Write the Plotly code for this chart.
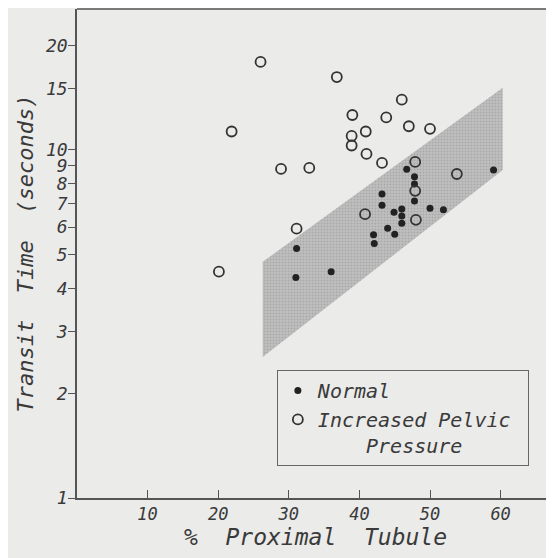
import plotly.graph_objects as go

# ---- data ----
normal_x = [46.7, 47.8, 47.8, 47.8, 59.0, 43.2, 43.2, 44.9, 46.0, 46.0,
            46.0, 50.0, 51.9, 44.0, 45.0, 42.0, 42.1, 31.1, 36.0, 31.0]
normal_y = [8.80, 8.38, 7.99, 7.14, 8.76, 7.47, 6.94, 6.62, 6.77, 6.46,
            6.16, 6.80, 6.73, 5.96, 5.73, 5.71, 5.39, 5.21, 4.47, 4.30]

pelvic_x = [26.0, 21.9, 20.1, 28.9, 36.8, 46.0, 39.0, 43.8, 47.0, 50.0,
            40.9, 38.9, 38.9, 41.0, 43.2, 47.9, 32.9, 53.8, 47.9, 40.8,
            48.0, 31.1]
pelvic_y = [17.9, 11.3, 4.47, 8.82, 16.2, 13.95, 12.6, 12.4, 11.7, 11.5,
            11.3, 10.97, 10.3, 9.74, 9.18, 9.24, 8.88, 8.53, 7.63, 6.54,
            6.30, 5.94]

band_x = [26.3, 60.3]
band_lower = [2.54, 8.76]
band_upper = [4.77, 15.1]

x_ticks = [10, 20, 30, 40, 50, 60]
y_ticks = [1, 2, 3, 4, 5, 6, 7, 8, 9, 10, 15, 20]

INK = "#3a3a3a"
BG = "#ebebea"
FONT = "DejaVu Sans Mono"
NB = "\u00a0"

fig = go.Figure()

# shaded band
fig.add_trace(go.Scatter(
    x=band_x + band_x[::-1] + [band_x[0]],
    y=band_upper + band_lower[::-1] + [band_upper[0]],
    mode="lines", fill="toself",
    fillcolor="#b8b8b8",
    fillpattern=dict(shape=".", bgcolor="#c0c0c0", fgcolor="#909090",
                     size=3, solidity=0.35, fillmode="overlay"),
    line=dict(width=0, color="rgba(0,0,0,0)"),
    hoverinfo="skip", showlegend=False))

fig.add_trace(go.Scatter(
    x=normal_x, y=normal_y, mode="markers", name="Normal",
    marker=dict(symbol="circle", size=7, color="#222222")))

fig.add_trace(go.Scatter(
    x=pelvic_x, y=pelvic_y, mode="markers",
    name="Increased" + NB + "Pelvic" + NB + "<br>" + NB * 4 + "Pressure",
    marker=dict(symbol="circle-open", size=10,
                line=dict(width=1.8, color="#333333"), color="#333333")))

# The page body has an 8 px margin, so the figure is 8 px smaller each way
fig.update_layout(
    width=546, height=550,
    margin=dict(l=69, r=0, t=1, b=60),
    paper_bgcolor=BG, plot_bgcolor=BG,
    font=dict(family=FONT, color=INK, size=17, style="italic"),
    showlegend=True,
    legend=dict(x=0.419, y=0.262, xanchor="left", yanchor="top",
                bordercolor="#666666", borderwidth=1, bgcolor=BG,
                font=dict(family=FONT, size=20, color=INK, style="italic"),
                itemsizing="trace", itemwidth=30, tracegroupgap=0,
                valign="top"),
)

fig.update_xaxes(
    range=[0, 67.56], tickvals=x_ticks, ticktext=[str(v) for v in x_ticks],
    ticks="inside", ticklen=8, tickwidth=1.2, tickcolor="#555555",
    showline=True, linecolor="#555555", linewidth=1.5, mirror=False,
    showgrid=False, zeroline=False, automargin=False,
    tickfont=dict(family=FONT, size=17, color=INK, style="italic"),
    title=dict(text="%" + NB * 2 + "Proximal" + NB * 2 + "Tubule",
               font=dict(family=FONT, size=23, color=INK, style="italic"),
               standoff=6),
)

fig.update_yaxes(
    type="log", range=[0, 1.405], tickvals=y_ticks,
    ticktext=[str(v) for v in y_ticks],
    ticks="outside", ticklen=7, tickwidth=1.2, tickcolor="#555555",
    showline=True, linecolor="#555555", linewidth=1.5,
    showgrid=False, zeroline=False, automargin=False,
    ticklabelstandoff=-3,
    tickfont=dict(family=FONT, size=18, color=INK, style="italic"),
    title=dict(text="Transit" + NB * 2 + "Time" + NB * 2 + "(seconds)",
               font=dict(family=FONT, size=22, color=INK, style="italic"),
               standoff=6),
)

# top border of the frame (the frame continues past the right edge)
fig.add_shape(type="line", xref="paper", yref="paper", x0=0, x1=1, y0=1, y1=1,
              line=dict(color="#555555", width=1.5))

fig.write_html("out.html")
